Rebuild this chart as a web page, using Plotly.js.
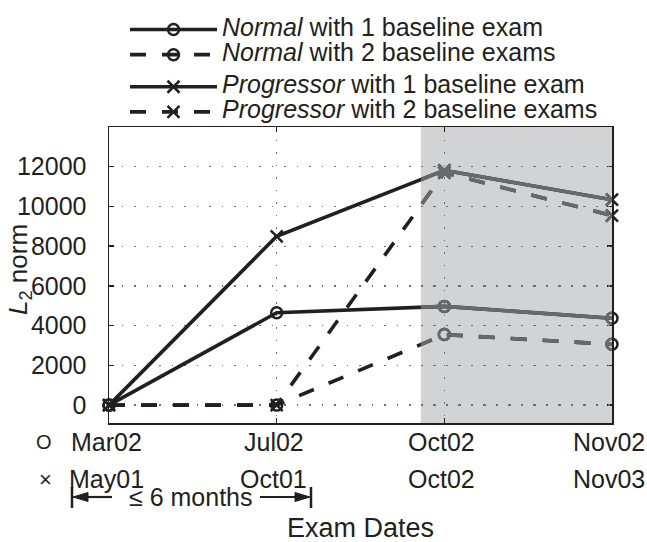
<!DOCTYPE html>
<html><head><meta charset="utf-8">
<script src="https://cdn.plot.ly/plotly-3.0.1.min.js"></script>
<style>html,body{margin:0;padding:0;background:#fff}</style>
</head><body>
<div id="chart" style="width:647px;height:542px"></div>
<script>
// ---- data ----
const examIndex = [0, 1, 2, 3];
const circleDates = ['Mar02', 'Jul02', 'Oct02', 'Nov02'];
const crossDates = ['May01', 'Oct01', 'Oct02', 'Nov03'];
const normal1 = [0, 4650, 4970, 4370];
const normal2 = [0, 0, 3550, 3060];
const progressor1 = [0, 8500, 11820, 10340];
const progressor2 = [0, 0, 11700, 9540];
const seriesGroups = ['Normal', 'Normal', 'Progressor', 'Progressor'];
const seriesRest = ['with 1 baseline exam', 'with 2 baseline exams', 'with 1 baseline exam', 'with 2 baseline exams'];
const yTicks = [0, 2000, 4000, 6000, 8000, 10000, 12000];
const shadeStart = 1.86;

// ---- style ----
const INK = '#231f20';
const GRAY = '#68696b';
const SHADE = '#d1d3d4';
const FONT = 'Liberation Sans, Arial, Helvetica, sans-serif';
const L = 109, R = 612, T = 127, B = 423, W = 647, H = 542;
const px2x = p => (p - L) / (R - L);
const py2y = p => (B - p) / (B - T);
const xMax = examIndex[examIndex.length - 1];

const seriesVals = [normal1, normal2, progressor1, progressor2];
const dashes = ['solid', '16px,16px', 'solid', '16px,16px'];
const symbols = ['circle-open', 'circle-open', 'x-thin-open', 'x-thin-open'];
const msize = [11, 11, 12, 12];

const traces = [];
seriesVals.forEach((vals, i) => {
  traces.push({
    x: examIndex, y: vals, type: 'scatter', mode: 'lines+markers',
    name: '<span style="font-size:25px"><i>' + seriesGroups[i] + '</i> ' + seriesRest[i] + '</span>',
    legendgroup: seriesGroups[i],
    line: {color: INK, width: 3.6, dash: dashes[i]},
    marker: {symbol: symbols[i], size: msize[i], color: INK, line: {color: INK, width: 2.5}},
    cliponaxis: false, hoverinfo: 'skip'
  });
});
// gray overlay inside the shaded period
seriesVals.forEach((vals, i) => {
  traces.push({
    x: examIndex, y: vals, type: 'scatter', mode: 'lines+markers',
    xaxis: 'x2', yaxis: 'y', showlegend: false,
    line: {color: GRAY, width: 3.6, dash: dashes[i]},
    marker: {symbol: symbols[i], size: msize[i], color: GRAY, line: {color: GRAY, width: 2.5}},
    hoverinfo: 'skip'
  });
});

const annotations = [];
examIndex.forEach((xi, i) => {
  annotations.push({x: xi, xref: 'x', y: py2y(442), yref: 'paper', text: circleDates[i],
    showarrow: false, xanchor: 'center', yanchor: 'middle', xshift: -3,
    font: {family: FONT, size: 25, color: INK}});
  annotations.push({x: xi, xref: 'x', y: py2y(479), yref: 'paper', text: crossDates[i],
    showarrow: false, xanchor: 'center', yanchor: 'middle', xshift: -3,
    font: {family: FONT, size: 25, color: INK}});
});
annotations.push({x: px2x(44), xref: 'paper', y: py2y(442), yref: 'paper', text: 'O', showarrow: false,
  xanchor: 'center', yanchor: 'middle', font: {family: FONT, size: 20, color: INK}});
annotations.push({x: px2x(45), xref: 'paper', y: py2y(479), yref: 'paper', text: '×', showarrow: false,
  xanchor: 'center', yanchor: 'middle', font: {family: FONT, size: 22, color: INK}});
annotations.push({x: px2x(191), xref: 'paper', y: py2y(497), yref: 'paper', text: '≤ 6 months', showarrow: false,
  xanchor: 'center', yanchor: 'middle', font: {family: FONT, size: 25, color: INK}});
annotations.push({x: 0.5, xref: 'paper', y: py2y(528), yref: 'paper', text: 'Exam Dates', showarrow: false,
  xanchor: 'center', yanchor: 'middle', font: {family: FONT, size: 27, color: INK}});
annotations.push({x: px2x(19), xref: 'paper', y: py2y(270), yref: 'paper', text: '<i>L</i><sub>2</sub> norm',
  showarrow: false, textangle: -90, xanchor: 'center', yanchor: 'middle', font: {family: FONT, size: 26, color: INK}});

// bracket with arrows (decoration, in pixel-derived paper coords)
const pathPx = pts => 'M ' + pts.map(p => px2x(p[0]) + ',' + py2y(p[1])).join(' L ') + ' Z';
const shapes = [
  {type: 'rect', xref: 'x', yref: 'paper', x0: shadeStart, x1: xMax, y0: 0, y1: 1,
   fillcolor: SHADE, line: {width: 0}, layer: 'below'},
  {type: 'line', xref: 'paper', yref: 'paper', x0: px2x(72), x1: px2x(72), y0: py2y(487), y1: py2y(508),
   line: {color: INK, width: 2.5}},
  {type: 'line', xref: 'paper', yref: 'paper', x0: px2x(311), x1: px2x(311), y0: py2y(487), y1: py2y(508),
   line: {color: INK, width: 2.5}},
  {type: 'line', xref: 'paper', yref: 'paper', x0: px2x(84), x1: px2x(112), y0: py2y(497), y1: py2y(497),
   line: {color: INK, width: 2.2}},
  {type: 'line', xref: 'paper', yref: 'paper', x0: px2x(260), x1: px2x(299), y0: py2y(497), y1: py2y(497),
   line: {color: INK, width: 2.2}},
  {type: 'path', xref: 'paper', yref: 'paper', path: pathPx([[73, 497], [88, 492.5], [88, 501.5]]),
   fillcolor: INK, line: {color: INK, width: 1}},
  {type: 'path', xref: 'paper', yref: 'paper', path: pathPx([[310, 497], [295, 492.5], [295, 501.5]]),
   fillcolor: INK, line: {color: INK, width: 1}}
];

const axisCommon = {
  showline: true, linecolor: INK, linewidth: 1.5, mirror: 'ticks',
  ticks: 'inside', ticklen: 5, tickwidth: 1.5, tickcolor: INK,
  showgrid: true, gridcolor: '#6d6e71', gridwidth: 1.3, griddash: '1.5px,11px',
  zeroline: false, fixedrange: true
};

const layout = {
  width: W, height: H,
  margin: {l: L, r: W - R, t: T, b: H - B, pad: 0},
  paper_bgcolor: '#ffffff', plot_bgcolor: 'rgba(0,0,0,0)',
  font: {family: FONT, color: INK},
  showlegend: true,
  legend: {x: px2x(125), y: py2y(12), xanchor: 'left', yanchor: 'top',
    font: {family: FONT, size: 17, color: INK}, itemwidth: 87,
    traceorder: 'grouped', tracegroupgap: 7, bgcolor: 'rgba(0,0,0,0)', borderwidth: 0},
  xaxis: Object.assign({}, axisCommon, {range: [0, xMax], tickvals: examIndex, showticklabels: false}),
  xaxis2: {domain: [shadeStart / xMax, 1], range: [shadeStart, xMax], anchor: 'y', visible: false,
    showgrid: false, zeroline: false, fixedrange: true},
  yaxis: Object.assign({}, axisCommon, {range: [-900, 14000], tickvals: yTicks, tickformat: 'd',
    ticklabelstandoff: 16, tickfont: {family: FONT, size: 25, color: INK}}),
  annotations: annotations,
  shapes: shapes
};

Plotly.newPlot('chart', traces, layout, {staticPlot: true, displayModeBar: false});
</script>
</body></html>
